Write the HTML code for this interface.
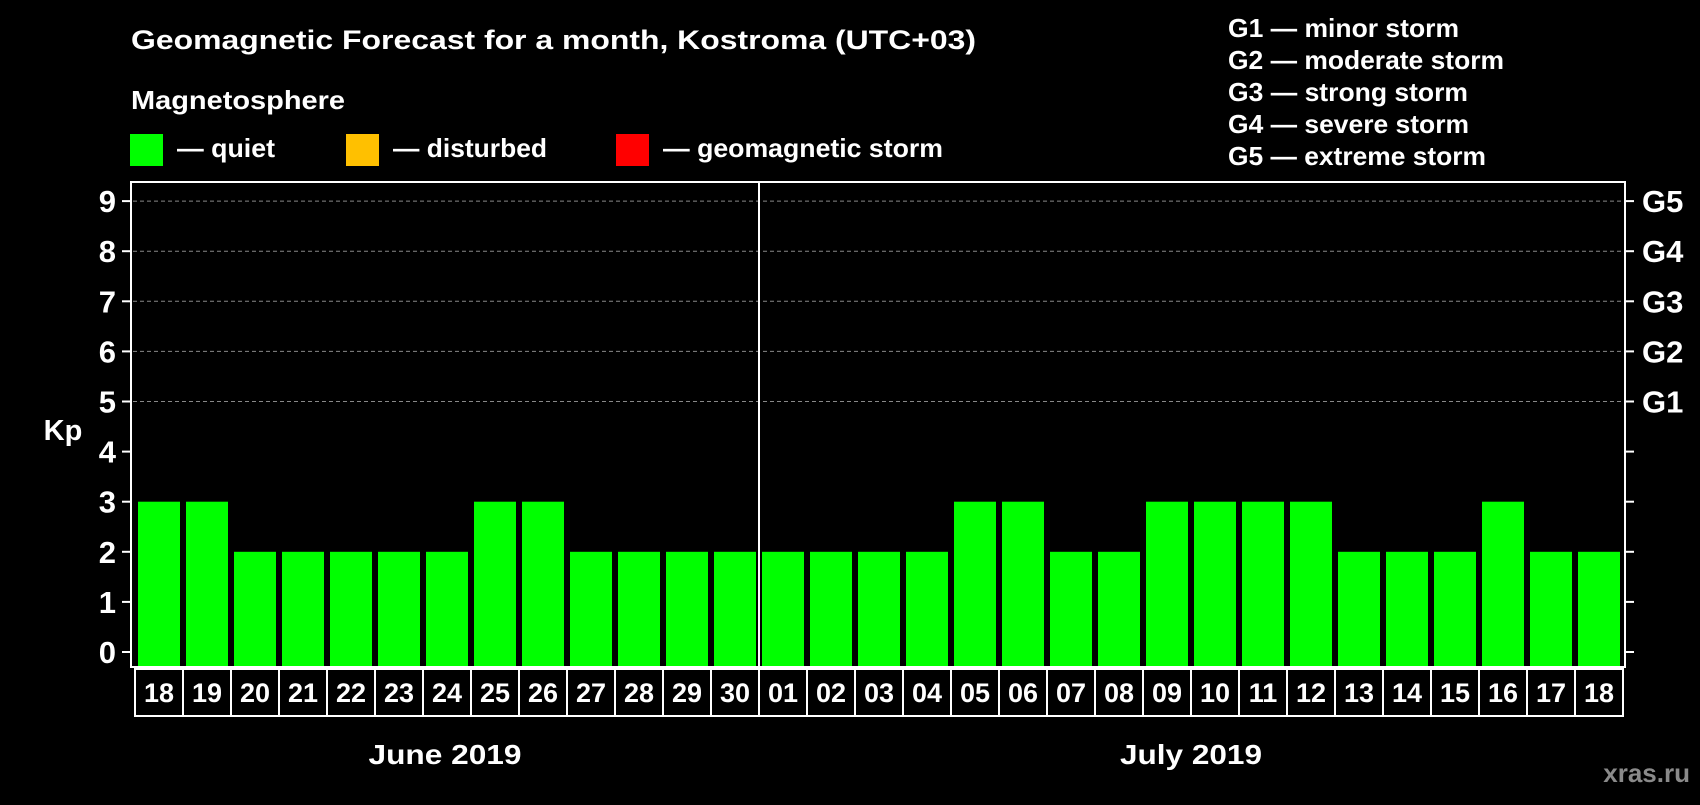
<!DOCTYPE html>
<html><head><meta charset="utf-8"><style>
body{margin:0;background:#000;width:1700px;height:800px;overflow:hidden;font-family:"Liberation Sans",Arial,sans-serif;font-weight:bold;color:#fff}
</style></head><body>
<svg id="chart" width="1700" height="800" xmlns="http://www.w3.org/2000/svg" font-family="Liberation Sans, Arial, sans-serif" font-weight="bold">
<rect width="1700" height="800" fill="#000"/>
<text x="131" y="49" font-size="27" fill="#fff" textLength="845" lengthAdjust="spacingAndGlyphs">Geomagnetic Forecast for a month, Kostroma (UTC+03)</text>
<text x="131" y="109" font-size="26" fill="#fff" textLength="214" lengthAdjust="spacingAndGlyphs">Magnetosphere</text>
<g><rect x="130" y="134" width="33" height="32" fill="#00ff00"/><text x="177" y="157" font-size="26" fill="#fff" textLength="98" lengthAdjust="spacingAndGlyphs">— quiet</text></g>
<g><rect x="346" y="134" width="33" height="32" fill="#ffc000"/><text x="393" y="157" font-size="26" fill="#fff" textLength="154" lengthAdjust="spacingAndGlyphs">— disturbed</text></g>
<g><rect x="616" y="134" width="33" height="32" fill="#ff0000"/><text x="663" y="157" font-size="26" fill="#fff" textLength="280" lengthAdjust="spacingAndGlyphs">— geomagnetic storm</text></g>
<g font-size="26" fill="#fff">
<text x="1228" y="37" textLength="231" lengthAdjust="spacingAndGlyphs">G1 — minor storm</text>
<text x="1228" y="69" textLength="276" lengthAdjust="spacingAndGlyphs">G2 — moderate storm</text>
<text x="1228" y="101" textLength="240" lengthAdjust="spacingAndGlyphs">G3 — strong storm</text>
<text x="1228" y="133" textLength="241" lengthAdjust="spacingAndGlyphs">G4 — severe storm</text>
<text x="1228" y="165" textLength="258" lengthAdjust="spacingAndGlyphs">G5 — extreme storm</text>
</g>
<text x="63" y="440" font-size="29" fill="#fff" text-anchor="middle">Kp</text>
<g id="grid"></g>
<g id="bars"></g>
<rect x="131" y="182" width="1494" height="485" fill="none" stroke="#fff" stroke-width="2"/>
<line x1="759" y1="182" x2="759" y2="667" stroke="#fff" stroke-width="2"/>
<g id="axes"></g>
<text x="445" y="764" font-size="28" fill="#fff" text-anchor="middle" textLength="153" lengthAdjust="spacingAndGlyphs">June 2019</text>
<text x="1191" y="764" font-size="28" fill="#fff" text-anchor="middle" textLength="142" lengthAdjust="spacingAndGlyphs">July 2019</text>
<text x="1690" y="782" font-size="26" fill="#8a8a8a" text-anchor="end">xras.ru</text>
</svg>
<script>
const days=["18","19","20","21","22","23","24","25","26","27","28","29","30","01","02","03","04","05","06","07","08","09","10","11","12","13","14","15","16","17","18"];
const kp=[3,3,2,2,2,2,2,3,3,2,2,2,2,2,2,2,2,3,3,2,2,3,3,3,3,2,2,2,3,2,2];
const yTicks=[0,1,2,3,4,5,6,7,8,9];
const gLabels=["G1","G2","G3","G4","G5"];
const NS="http://www.w3.org/2000/svg";
const X0=134,SLOT=48,Y0=652,UNIT=50.1,BOTTOM=666;
const yS=v=>Y0-v*UNIT;
const xS=i=>X0+i*SLOT;
function mk(t,a,p){const e=document.createElementNS(NS,t);for(const k in a)e.setAttribute(k,a[k]);p.appendChild(e);return e;}
const grid=document.getElementById('grid'),bars=document.getElementById('bars'),axes=document.getElementById('axes');
yTicks.forEach(v=>{
 const y=yS(v);
 if(v>=5){const l=mk('line',{x1:133,x2:1623,y1:y,y2:y,stroke:'#888','stroke-dasharray':'4,3','stroke-width':1},grid);
 
 }
 const t1=mk('line',{x1:122,x2:131,y1:y,y2:y,stroke:'#fff','stroke-width':2},axes);
 
 
 const t2=mk('line',{x1:1625,x2:1634,y1:y,y2:y,stroke:'#fff','stroke-width':2},axes);
 
 
 const tx=mk('text',{x:116,y:y+11,'font-size':31,fill:'#fff','text-anchor':'end'},axes);
 tx.textContent=v;
 
 
});
gLabels.forEach((g,i)=>{
 const tx=mk('text',{x:1642,y:yS(5+i)+11,'font-size':31,fill:'#fff'},axes);
 tx.textContent=g;
 
 
});
kp.forEach((v,i)=>{
 const col=v>=5?'#ff0000':(v>=4?'#ffc000':'#00ff00');
 const r=mk('rect',{x:xS(i)+4,y:yS(v),width:42,height:BOTTOM-yS(v),fill:col},bars);
 
 
 const b=mk('rect',{x:xS(i)+1,y:669,width:SLOT,height:47,fill:'none',stroke:'#fff','stroke-width':2},axes);
 
 
 const t=mk('text',{x:xS(i)+25,y:702,'font-size':27,fill:'#fff','text-anchor':'middle'},axes);
 t.textContent=days[i];
 
 
});
</script>
</body></html>
